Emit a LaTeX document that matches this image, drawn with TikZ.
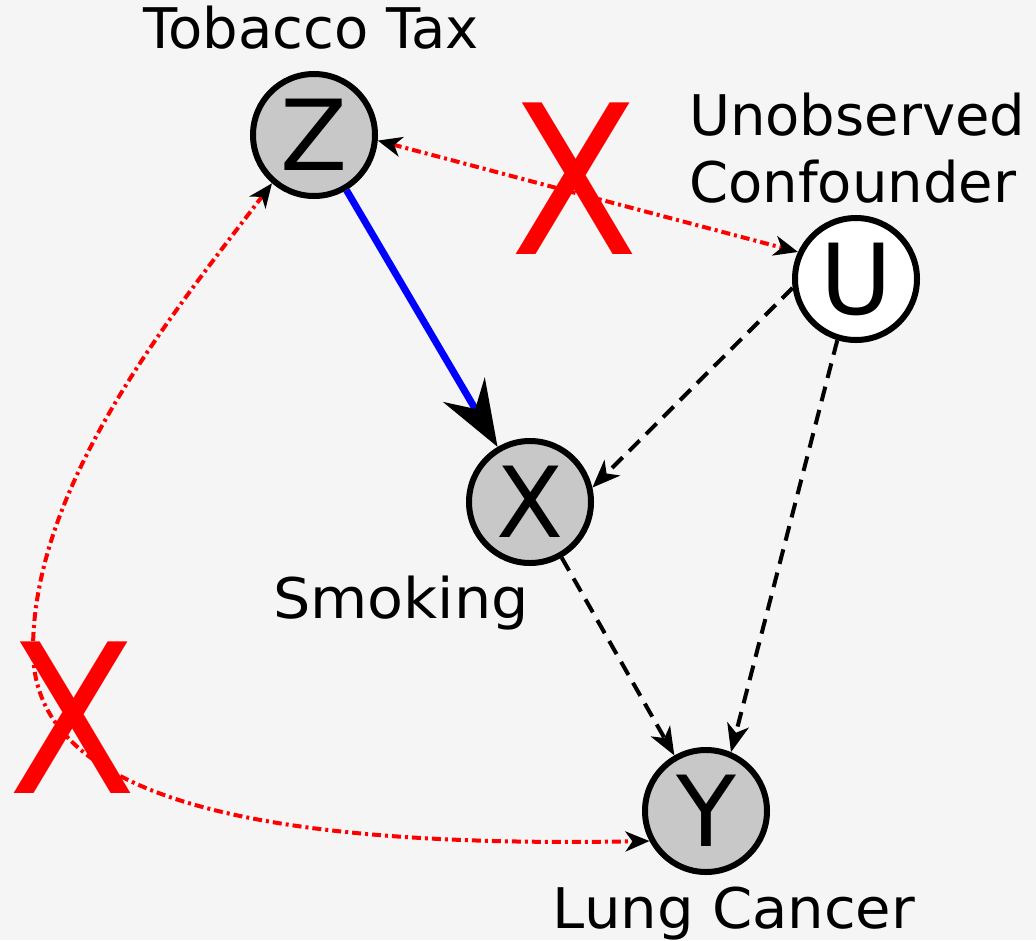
\documentclass[tikz,border=0pt]{standalone}
\usepackage{fontspec}
\usepackage{graphicx}
\setmainfont{DejaVu Sans}
\usetikzlibrary{arrows.meta}
\definecolor{bg}{RGB}{245,245,245}
\definecolor{nodegray}{RGB}{200,200,200}
\definecolor{xred}{RGB}{255,0,0}
\begin{document}
\begin{tikzpicture}[x=1pt,y=-1pt,
  var/.style={circle, draw=black, line width=6pt, minimum size=122pt, inner sep=0pt, font=\fontsize{98}{98}\selectfont},
  obs/.style={var, fill=nodegray},
  lat/.style={var, fill=white},
  lbl/.style={font=\fontsize{56}{56}\selectfont, inner sep=0pt, anchor=base},
  cross/.style={font=\fontsize{208}{208}\selectfont, text=xred, inner sep=0pt},
  causal/.style={blue, line width=7pt, -{Stealth[black,length=66pt,width=48pt,inset=22pt]}},
  conf/.style={black, line width=4pt, dash pattern=on 15pt off 9pt, -{Stealth[length=28pt,width=22pt,inset=8pt]}},
  bidir/.style={xred, line width=4pt, dash pattern=on 9pt off 4pt on 3pt off 4pt, {Stealth[black,length=24pt,width=20pt,inset=7pt]}-{Stealth[black,length=24pt,width=20pt,inset=7pt]}}
]
\fill[bg] (0,0) rectangle (1036,940);
\useasboundingbox (0,0) rectangle (1036,940);

\node[obs] (Z) at (314,135) {Z};
\node[lat] (U) at (856,279) {U};
\node[obs] (X) at (530,502) {X};
\node[obs] (Y) at (706,811) {Y};

\node[lbl] (lz) at (311,48) {Tobacco Tax};
\node[lbl, anchor=base west] (lu1) at (689,135) {Unobserved};
\node[lbl, anchor=base west] (lu2) at (689,202) {Confounder};
\node[lbl] (lx) at (401,618) {\scalebox{1.05}[1]{Smoking}};
\node[lbl] (ly) at (734,928) {\scalebox{1.03}[1]{Lung Cancer}};

\draw[causal] (Z) -- (X);
\draw[conf] (U.188) -- (X.13);
\draw[conf] (U.253) -- (Y.67);
\draw[conf] (X) -- (Y);
\draw[bidir] (Z.-5) -- (U.155);
\coordinate (bend) at (33,650);
\draw[bidir] (Z.229) .. controls (180,305) and (33,480) .. (bend) .. controls (33,800) and (260,848) .. (Y.208);

\node[cross] (x1) at (575,179) {\scalebox{0.9}[1]{X}};
\node[cross] (x2) at (73,718) {\scalebox{0.9}[1]{X}};
\end{tikzpicture}
\end{document}
